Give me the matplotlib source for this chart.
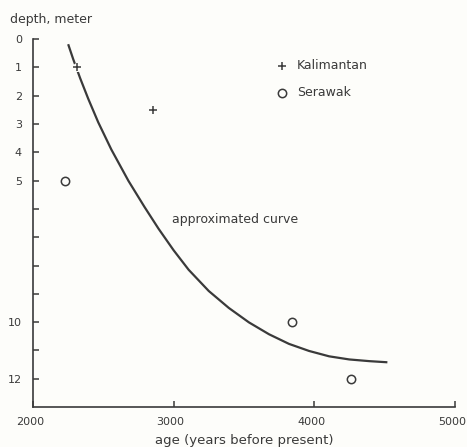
import matplotlib
matplotlib.use("Agg")
import matplotlib.pyplot as plt
import matplotlib.transforms as mtransforms

# Data
kal_age = [2314, 2857]
kal_depth = [1.0, 2.5]
ser_age = [2229, 3843, 4264]
ser_depth = [5.0, 10.0, 12.0]

curve_age = [2250, 2286, 2336, 2393, 2464, 2557, 2679, 2793, 2893, 3000, 3107,
             3250, 3393, 3536, 3679, 3821, 3964, 4107, 4250, 4393, 4521]
curve_depth = [0.18, 0.71, 1.39, 2.11, 2.94, 3.90, 5.01, 5.93, 6.70, 7.46, 8.15,
               8.90, 9.50, 10.01, 10.43, 10.77, 11.02, 11.21, 11.32, 11.38, 11.42]

x_ticks = [2000, 3000, 4000, 5000]
y_ticks = list(range(0, 13))
y_labels = ["0", "1", "2", "3", "4", "5", "", "", "", "", "10", "", "12"]

ink = "#3a3a3a"
bg = "#fdfdfa"

fig = plt.figure(figsize=(4.67, 4.47), dpi=100, facecolor=bg)
ax = fig.add_axes([0.0707, 0.0895, 0.903, 0.823], facecolor=bg)

ax.plot(curve_age, curve_depth, color=ink, lw=1.6, solid_capstyle="butt",
        solid_joinstyle="round", zorder=2)
ax.plot(kal_age[:1], kal_depth[:1], ls="none", marker="o", ms=6.5, mfc=bg, mec="none", zorder=3)
ax.plot(kal_age, kal_depth, ls="none", marker="+", ms=6, mew=1.1, color=ink, zorder=4)
ax.plot(ser_age, ser_depth, ls="none", marker="o", ms=6, mfc="none", mec=ink, mew=1.1,
        zorder=4)

ax.text(2986, 6.36, "approximated curve", fontsize=9, color=ink, va="center", ha="left")

# legend keys drawn manually
ax.plot([0.590], [0.927], transform=ax.transAxes, ls="none", marker="+", ms=6,
        mew=1.1, color=ink, clip_on=False)
ax.plot([0.590], [0.854], transform=ax.transAxes, ls="none", marker="o", ms=6,
        mfc="none", mec=ink, mew=1.1, clip_on=False)
ax.text(0.626, 0.927, "Kalimantan", transform=ax.transAxes, fontsize=9, color=ink,
        va="center", ha="left")
ax.text(0.626, 0.854, "Serawak", transform=ax.transAxes, fontsize=9, color=ink,
        va="center", ha="left")

ax.set_xlim(2000, 5000)
ax.set_ylim(13, 0)
ax.set_xticks(x_ticks)
ax.set_xticklabels([str(v) for v in x_ticks])
ax.set_yticks(y_ticks)
ax.set_yticklabels(y_labels)
ax.tick_params(direction="in", length=4, width=1.1, color=ink, labelcolor=ink,
               labelsize=8)
ax.tick_params(axis="x", pad=7)
ax.tick_params(axis="y", pad=8)

shift = mtransforms.ScaledTranslation(-3 / 100, 0, fig.dpi_scale_trans)
for lab in ax.get_xticklabels():
    lab.set_transform(lab.get_transform() + shift)

for s in ["top", "right"]:
    ax.spines[s].set_visible(False)
for s in ["left", "bottom"]:
    ax.spines[s].set_color(ink)
    ax.spines[s].set_linewidth(1.2)

ax.set_xlabel("age (years before present)", fontsize=9.5, color=ink, labelpad=5)
fig.text(10 / 467, 1 - 19 / 447, "depth, meter", fontsize=9, color=ink,
         ha="left", va="center")

fig.savefig("out.png", dpi=100, facecolor=bg)
